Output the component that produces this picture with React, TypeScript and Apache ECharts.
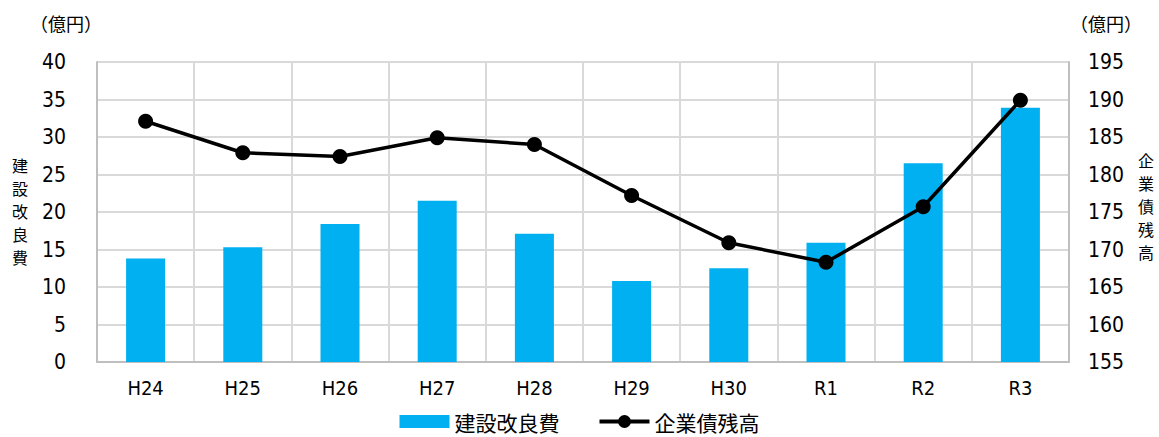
import React, { useEffect, useRef } from "react";
import * as echarts from "echarts";

const categories = ["H24", "H25", "H26", "H27", "H28", "H29", "H30", "R1", "R2", "R3"];
const kensetsu = [13.8, 15.3, 18.4, 21.5, 17.1, 10.8, 12.5, 15.9, 26.5, 33.9];
const kigyosai = [187.1, 182.9, 182.4, 184.9, 184.0, 177.2, 170.9, 168.3, 175.7, 189.9];
const barName = "建設改良費";
const lineName = "企業債残高";
const unitLabel = "（億円）";

const numFont = "'DejaVu Sans Condensed', 'Liberation Sans Narrow', sans-serif";
const jpFont = "'Noto Sans CJK JP', sans-serif";

const lineIcon =
  "path://M0,4.5 L50,4.5 L50,8.5 L0,8.5 Z M18.5,6.5 A6.5,6.5 0 1,1 31.5,6.5 A6.5,6.5 0 1,1 18.5,6.5 Z";

function verticalText(text: string, x: number, y0: number) {
  return text.split("").map((ch, i) => ({
    type: "text",
    left: x,
    top: y0 + i * 23,
    style: { text: ch, fontFamily: jpFont, fontSize: 16, fill: "#000" },
  }));
}

export default function App() {
  const ref = useRef<HTMLDivElement>(null);
  useEffect(() => {
    if (!ref.current) return;
    const chart = echarts.init(ref.current, null, { renderer: "svg" });
    chart.setOption({
      animation: false,
      backgroundColor: "#ffffff",
      grid: { left: 97, right: 90, top: 62, bottom: 75, containLabel: false },
      legend: {
        bottom: 0,
        left: "center",
        itemGap: 40,
        itemWidth: 50,
        itemHeight: 13,
        textStyle: { fontFamily: jpFont, fontSize: 21, color: "#000" },
        data: [
          { name: barName, icon: "rect" },
          { name: lineName, icon: lineIcon },
        ],
      },
      graphic: [
        { type: "text", left: 30, top: 14, style: { text: unitLabel, fontFamily: jpFont, fontSize: 18, fill: "#000" } },
        { type: "text", left: 1070, top: 14, style: { text: unitLabel, fontFamily: jpFont, fontSize: 18, fill: "#000" } },
        ...verticalText(barName, 12, 157),
        ...verticalText(lineName, 1138, 152),
      ],
      xAxis: {
        type: "category",
        data: categories,
        axisLine: { show: true, lineStyle: { color: "#bfbfbf", width: 2 } },
        axisTick: { show: false },
        axisLabel: { fontFamily: numFont, fontSize: 20, color: "#000", margin: 16 },
        splitLine: { show: true, lineStyle: { color: "#d9d9d9", width: 2 } },
      },
      yAxis: [
        {
          type: "value",
          min: 0,
          max: 40,
          interval: 5,
          axisLine: { show: true, lineStyle: { color: "#bfbfbf", width: 2 } },
          axisTick: { show: false },
          axisLabel: { fontFamily: numFont, fontSize: 21, color: "#000", margin: 31 },
          splitLine: { show: true, lineStyle: { color: "#d9d9d9", width: 2 } },
        },
        {
          type: "value",
          min: 155,
          max: 195,
          interval: 5,
          position: "right",
          axisLine: { show: true, lineStyle: { color: "#bfbfbf", width: 2 } },
          axisTick: { show: false },
          axisLabel: { fontFamily: numFont, fontSize: 21, color: "#000", margin: 19 },
          splitLine: { show: false },
        },
      ],
      series: [
        {
          name: barName,
          type: "bar",
          data: kensetsu,
          barWidth: 39,
          itemStyle: { color: "#00b0f0" },
          yAxisIndex: 0,
        },
        {
          name: lineName,
          type: "line",
          data: kigyosai,
          yAxisIndex: 1,
          symbol: "circle",
          symbolSize: 15,
          itemStyle: { color: "#000" },
          lineStyle: { color: "#000", width: 3.5 },
        },
      ],
    });
    return () => chart.dispose();
  }, []);
  return <div ref={ref} style={{ width: 1159, height: 437, position: "absolute", left: 0, top: 0 }} />;
}
